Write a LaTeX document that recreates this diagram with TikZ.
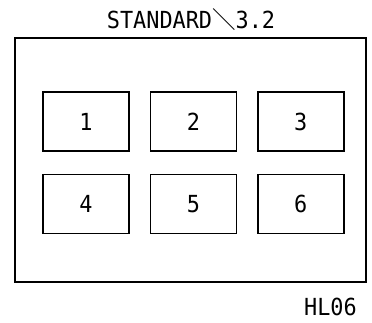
\documentclass[tikz,border=0pt]{standalone}
\usepackage{fontspec}
\setmainfont[FakeStretch=0.93]{DejaVu Sans Mono}
\newfontfamily\cjk{Noto Sans CJK JP}
\usetikzlibrary{positioning}

\begin{document}
\begin{tikzpicture}[
		x=1pt, y=1pt,
		node distance=22pt and 20pt,
		frame/.style={draw, line width=1.4pt, minimum width=351pt, minimum height=244pt, inner sep=0pt},
		cell/.style={draw, line width=1.4pt, minimum width=86pt, minimum height=59pt, inner sep=0pt, font=\fontsize{23.5}{26}\selectfont},
		label/.style={inner sep=0pt, font=\fontsize{23.5}{26}\selectfont}
		]
		\useasboundingbox (0,0) rectangle (372,322);
		
		% Nodes
		\node[frame] (outer) at (190.5,162) {};
		\node[label, anchor=base] (title) at (191,293.5) {STANDARD{\cjk ＼}3.2};
		\node[cell] (c1) at (86,200.5) {1};
		\node[cell, right=of c1] (c2) {2};
		\node[cell, right=of c2] (c3) {3};
		\node[cell, below=of c1] (c4) {4};
		\node[cell, below=of c2] (c5) {5};
		\node[cell, below=of c3] (c6) {6};
		\node[label, anchor=base east] (code) at (357,7) {HL06};
	\end{tikzpicture}
\end{document}
